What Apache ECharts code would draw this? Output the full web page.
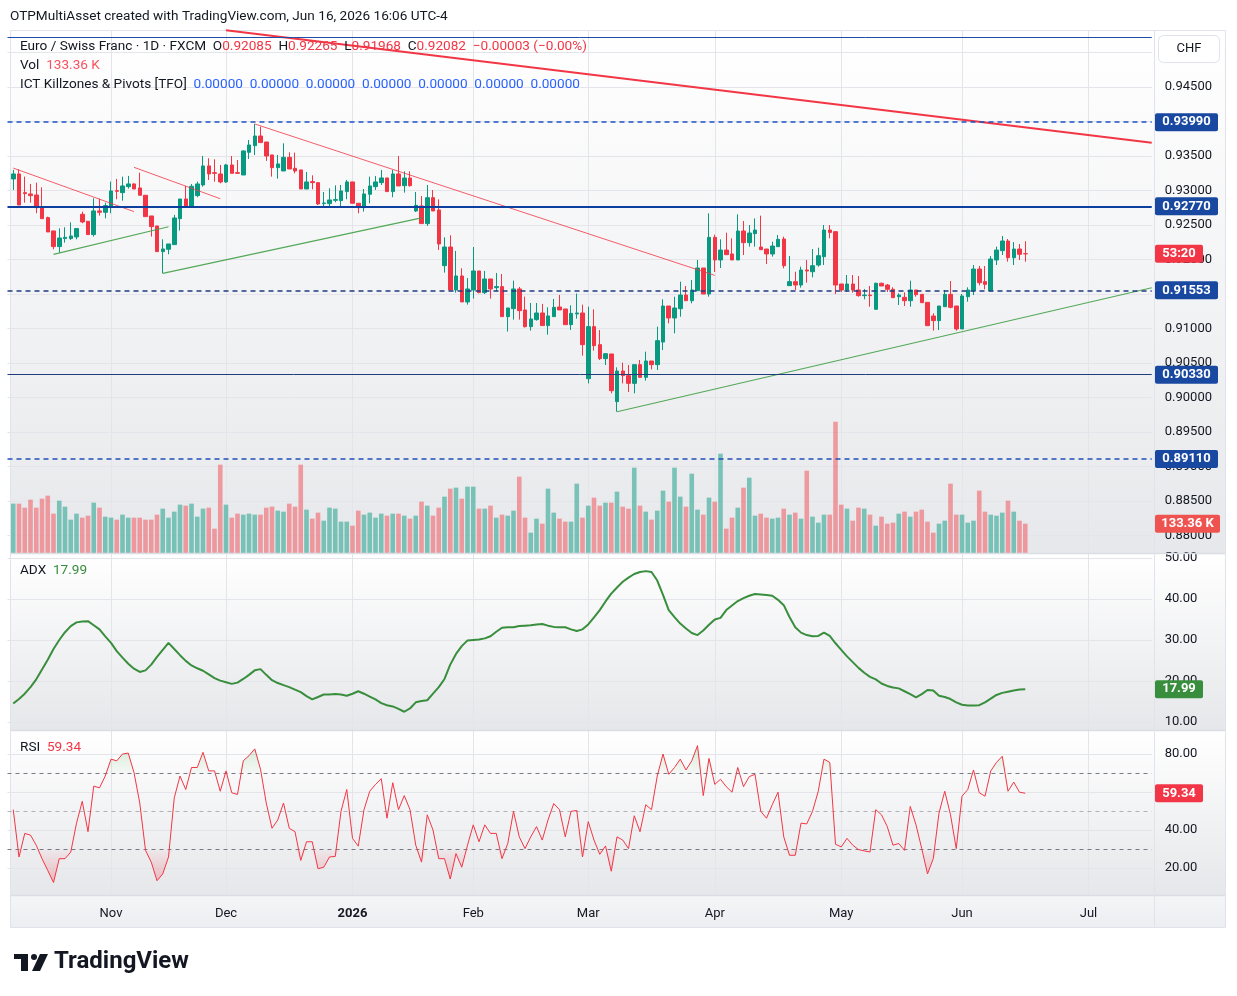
<!DOCTYPE html>
<html>
<head>
<meta charset="utf-8">
<script src="https://cdn.jsdelivr.net/npm/echarts@6/dist/echarts.min.js"></script>
<style>
  html, body { margin: 0; padding: 0; background: #fff; }
  #chart { width: 1237px; height: 996px; }
</style>
</head>
<body>
<div id="chart"></div>
<script>
// EUR/CHF daily, Oct 9 2025 - Jun 16 2026
const opens = [
  0.93167, 0.93240, 0.92969, 0.92950, 0.92935, 0.92766, 0.92607, 0.92414, 0.92187, 0.92303,
  0.92303, 0.92327, 0.92655, 0.92554, 0.92361, 0.92704, 0.92684, 0.92766, 0.92998, 0.92969,
  0.93056, 0.93095, 0.93037, 0.92931, 0.92631, 0.92486, 0.92114, 0.92148, 0.92216, 0.92592,
  0.92877, 0.92766, 0.92926, 0.93080, 0.93356, 0.93259, 0.93240, 0.93124, 0.93370, 0.93259,
  0.93225, 0.93554, 0.93650, 0.93790, 0.93703, 0.93515, 0.93331, 0.93283, 0.93481, 0.93322,
  0.93298, 0.93022, 0.93129, 0.93114, 0.92810, 0.92810, 0.92858, 0.92853, 0.92984, 0.93124,
  0.92815, 0.92752, 0.92945, 0.93056, 0.93114, 0.93182, 0.92984, 0.93240, 0.93070, 0.93181,
  0.92703, 0.92776, 0.92520, 0.92896, 0.92718, 0.91911, 0.92181, 0.91558, 0.91761, 0.91385,
  0.91558, 0.91834, 0.91520, 0.91718, 0.91592, 0.91607, 0.91172, 0.91288, 0.91573, 0.91269,
  0.91027, 0.91129, 0.91225, 0.91042, 0.91172, 0.91312, 0.91283, 0.91056, 0.91211, 0.91225,
  0.90273, 0.91027, 0.90766, 0.90563, 0.90631, 0.89940, 0.90384, 0.90317, 0.90205, 0.90476,
  0.90292, 0.90529, 0.90476, 0.90804, 0.91326, 0.91152, 0.91287, 0.91485, 0.91403, 0.91548,
  0.91877, 0.91500, 0.92321, 0.91993, 0.92137, 0.92080, 0.91993, 0.92413, 0.92244, 0.92374,
  0.92181, 0.92152, 0.92080, 0.92186, 0.92297, 0.91621, 0.91679, 0.91630, 0.91848, 0.91823,
  0.91920, 0.92041, 0.92427, 0.92403, 0.91645, 0.91558, 0.91645, 0.91558, 0.91476, 0.91485,
  0.91278, 0.91655, 0.91630, 0.91568, 0.91461, 0.91452, 0.91403, 0.91558, 0.91495, 0.91379,
  0.91181, 0.91114, 0.91316, 0.91495, 0.91326, 0.90993, 0.91461, 0.91548, 0.91862, 0.91679,
  0.91548, 0.91993, 0.92128, 0.92268, 0.92026, 0.92152, 0.92085
];
const highs = [
  0.93298, 0.93307, 0.93201, 0.93095, 0.93114, 0.93046, 0.92621, 0.92414, 0.92452, 0.92467,
  0.92539, 0.92448, 0.92694, 0.92554, 0.92887, 0.92882, 0.92824, 0.93129, 0.93167, 0.93201,
  0.93211, 0.93104, 0.93259, 0.92931, 0.92631, 0.92486, 0.92293, 0.92225, 0.92646, 0.92877,
  0.93066, 0.93095, 0.93129, 0.93500, 0.93467, 0.93452, 0.93370, 0.93385, 0.93500, 0.93442,
  0.93580, 0.93732, 0.93964, 0.93925, 0.93703, 0.93515, 0.93515, 0.93684, 0.93554, 0.93549,
  0.93298, 0.93269, 0.93220, 0.93114, 0.92979, 0.93032, 0.93075, 0.93080, 0.93153, 0.93124,
  0.92815, 0.93022, 0.93201, 0.93211, 0.93298, 0.93182, 0.93298, 0.93500, 0.93278, 0.93278,
  0.92978, 0.92920, 0.93080, 0.93007, 0.92872, 0.92322, 0.92351, 0.92124, 0.91872, 0.91732,
  0.92181, 0.91834, 0.91834, 0.91718, 0.91805, 0.91790, 0.91298, 0.91694, 0.91602, 0.91462,
  0.91370, 0.91370, 0.91356, 0.91307, 0.91428, 0.91486, 0.91283, 0.91336, 0.91507, 0.91346,
  0.91316, 0.91278, 0.90978, 0.90635, 0.90631, 0.90437, 0.90505, 0.90471, 0.90476, 0.90544,
  0.90664, 0.90529, 0.91027, 0.91423, 0.91326, 0.91461, 0.91679, 0.91616, 0.91703, 0.91993,
  0.91877, 0.92669, 0.92360, 0.92292, 0.92389, 0.92307, 0.92654, 0.92558, 0.92500, 0.92596,
  0.92635, 0.92152, 0.92258, 0.92355, 0.92331, 0.92051, 0.91823, 0.91896, 0.91993, 0.92152,
  0.92171, 0.92500, 0.92500, 0.92413, 0.91645, 0.91775, 0.91775, 0.91761, 0.91572, 0.91616,
  0.91665, 0.91665, 0.91645, 0.91597, 0.91510, 0.91524, 0.91693, 0.91558, 0.91495, 0.91379,
  0.91220, 0.91326, 0.91558, 0.91688, 0.91326, 0.91500, 0.91597, 0.91920, 0.91906, 0.91906,
  0.92051, 0.92186, 0.92340, 0.92297, 0.92253, 0.92224, 0.92265
];
const lows = [
  0.93008, 0.92790, 0.92824, 0.92824, 0.92670, 0.92592, 0.92399, 0.92148, 0.92100, 0.92245,
  0.92283, 0.92293, 0.92525, 0.92361, 0.92332, 0.92636, 0.92597, 0.92670, 0.92873, 0.92853,
  0.93027, 0.93022, 0.92931, 0.92621, 0.92332, 0.92114, 0.91800, 0.92076, 0.92216, 0.92419,
  0.92766, 0.92766, 0.92902, 0.93056, 0.93153, 0.93129, 0.93104, 0.93110, 0.93249, 0.93240,
  0.93225, 0.93457, 0.93515, 0.93694, 0.93428, 0.93201, 0.93172, 0.93283, 0.93312, 0.93249,
  0.93022, 0.93022, 0.93017, 0.92790, 0.92752, 0.92766, 0.92829, 0.92766, 0.92873, 0.92815,
  0.92670, 0.92694, 0.92815, 0.93008, 0.93080, 0.92984, 0.92902, 0.93066, 0.92969, 0.93056,
  0.92689, 0.92520, 0.92486, 0.92703, 0.92138, 0.91810, 0.91558, 0.91520, 0.91385, 0.91346,
  0.91433, 0.91510, 0.91500, 0.91433, 0.91539, 0.91172, 0.90955, 0.91129, 0.91129, 0.91013,
  0.90969, 0.91114, 0.91042, 0.90911, 0.91172, 0.91269, 0.91056, 0.90979, 0.91143, 0.90607,
  0.90205, 0.90679, 0.90544, 0.90471, 0.90061, 0.89795, 0.90205, 0.90080, 0.90061, 0.90292,
  0.90244, 0.90408, 0.90399, 0.90688, 0.91075, 0.90930, 0.91171, 0.91403, 0.91365, 0.91548,
  0.91500, 0.91461, 0.91819, 0.91877, 0.92070, 0.91993, 0.91993, 0.92065, 0.92186, 0.92186,
  0.92142, 0.91935, 0.92041, 0.92186, 0.91872, 0.91621, 0.91558, 0.91592, 0.91664, 0.91741,
  0.91896, 0.91920, 0.92307, 0.91500, 0.91529, 0.91534, 0.91519, 0.91461, 0.91423, 0.91316,
  0.91278, 0.91616, 0.91529, 0.91447, 0.91341, 0.91326, 0.91316, 0.91461, 0.91374, 0.91041,
  0.90969, 0.90978, 0.91316, 0.91292, 0.90969, 0.90993, 0.91389, 0.91485, 0.91626, 0.91568,
  0.91548, 0.91920, 0.92065, 0.91969, 0.91920, 0.91993, 0.91968
];
const closes = [
  0.93240, 0.92790, 0.92955, 0.92926, 0.92752, 0.92592, 0.92399, 0.92187, 0.92312, 0.92322,
  0.92341, 0.92448, 0.92544, 0.92361, 0.92704, 0.92684, 0.92781, 0.92993, 0.92988, 0.93066,
  0.93095, 0.93022, 0.92931, 0.92621, 0.92476, 0.92114, 0.92153, 0.92225, 0.92602, 0.92877,
  0.92766, 0.93061, 0.93095, 0.93356, 0.93240, 0.93249, 0.93124, 0.93370, 0.93249, 0.93249,
  0.93573, 0.93660, 0.93790, 0.93694, 0.93500, 0.93331, 0.93385, 0.93481, 0.93312, 0.93283,
  0.93022, 0.93124, 0.93114, 0.92805, 0.92819, 0.92863, 0.92868, 0.92993, 0.93124, 0.92815,
  0.92752, 0.92950, 0.93066, 0.93124, 0.93182, 0.92984, 0.93240, 0.93066, 0.93181, 0.93070,
  0.92785, 0.92520, 0.92896, 0.92703, 0.92225, 0.92181, 0.91558, 0.91761, 0.91385, 0.91573,
  0.91834, 0.91520, 0.91718, 0.91573, 0.91607, 0.91172, 0.91298, 0.91573, 0.91259, 0.91027,
  0.91138, 0.91225, 0.91042, 0.91182, 0.91307, 0.91269, 0.91056, 0.91220, 0.91225, 0.90766,
  0.91027, 0.90751, 0.90563, 0.90635, 0.90099, 0.90384, 0.90317, 0.90205, 0.90476, 0.90292,
  0.90529, 0.90476, 0.90824, 0.91326, 0.91152, 0.91297, 0.91485, 0.91403, 0.91558, 0.91877,
  0.91500, 0.92321, 0.91993, 0.92137, 0.92070, 0.91993, 0.92413, 0.92244, 0.92384, 0.92427,
  0.92142, 0.92080, 0.92195, 0.92292, 0.91910, 0.91679, 0.91630, 0.91848, 0.91833, 0.91910,
  0.92055, 0.92427, 0.92393, 0.91630, 0.91558, 0.91645, 0.91558, 0.91476, 0.91485, 0.91476,
  0.91655, 0.91616, 0.91568, 0.91447, 0.91485, 0.91403, 0.91558, 0.91490, 0.91374, 0.91041,
  0.91114, 0.91326, 0.91495, 0.91307, 0.90993, 0.91471, 0.91558, 0.91862, 0.91664, 0.91640,
  0.92007, 0.92137, 0.92268, 0.92026, 0.92152, 0.92075, 0.92082
];
// volume, thousands
const volumes = [
  224.5, 224.5, 206.3, 242.7, 206.3, 247.3, 260.9, 179.0, 238.2, 210.9,
  151.7, 179.0, 160.8, 169.9, 229.1, 206.3, 165.4, 160.8, 151.7, 174.5,
  160.8, 160.8, 160.8, 151.7, 151.7, 174.5, 201.8, 160.8, 188.1, 220.0,
  215.4, 224.5, 165.4, 201.8, 206.3, 110.7, 402.0, 220.0, 160.8, 179.0,
  174.5, 179.0, 174.5, 174.5, 206.3, 210.9, 192.7, 188.1, 224.5, 210.9,
  402.0, 197.2, 156.3, 183.6, 147.1, 206.3, 201.8, 142.6, 142.6, 124.4,
  192.7, 174.5, 183.6, 160.8, 179.0, 169.9, 179.0, 179.0, 169.9, 156.3,
  169.9, 233.6, 215.4, 169.9, 206.3, 256.4, 292.8, 297.3, 247.3, 301.9,
  301.9, 201.8, 201.8, 215.4, 160.8, 174.5, 169.9, 192.7, 347.4, 160.8,
  92.5, 156.3, 133.5, 292.8, 183.6, 156.3, 142.6, 142.6, 315.5, 160.8,
  215.4, 251.8, 215.4, 229.1, 229.1, 279.1, 210.9, 201.8, 388.4, 215.4,
  188.1, 151.7, 192.7, 283.7, 233.6, 388.4, 256.4, 210.9, 361.0, 197.2,
  174.5, 251.8, 233.6, 452.1, 110.7, 160.8, 206.3, 297.3, 342.8, 169.9,
  179.0, 160.8, 156.3, 160.8, 201.8, 174.5, 183.6, 156.3, 374.7, 165.4,
  138.0, 174.5, 174.5, 597.7, 220.0, 201.8, 147.1, 206.3, 201.8, 174.5,
  124.4, 165.4, 133.5, 138.0, 179.0, 188.1, 165.4, 188.1, 197.2, 142.6,
  92.5, 133.5, 147.1, 315.5, 174.5, 174.5, 138.0, 147.1, 283.7, 188.1,
  174.5, 169.9, 183.6, 238.2, 188.1, 147.1, 133.36
];
const adx = [
  14.5, 15.6, 16.9, 18.5, 20.4, 22.8, 25.2, 27.8, 30.0, 31.9,
  33.4, 34.3, 34.5, 34.6, 33.6, 32.6, 30.9, 29.3, 27.3, 25.7,
  24.2, 23.0, 22.2, 22.6, 24.0, 25.9, 27.6, 29.3, 27.8, 26.3,
  24.9, 23.8, 23.1, 22.5, 21.6, 20.7, 20.1, 19.7, 19.3, 19.6,
  20.5, 21.5, 22.6, 22.9, 21.5, 20.2, 19.5, 19.0, 18.5, 17.9,
  17.3, 16.3, 15.5, 16.1, 16.7, 16.7, 16.8, 16.7, 16.4, 16.9,
  17.5, 16.9, 16.2, 15.5, 14.6, 14.1, 13.8, 13.2, 12.5, 13.3,
  14.8, 15.1, 15.3, 16.9, 18.5, 20.5, 24.0, 26.6, 28.5, 29.9,
  30.0, 30.1, 30.4, 30.9, 32.0, 33.0, 33.1, 33.1, 33.4, 33.5,
  33.6, 33.8, 33.9, 33.5, 33.2, 33.1, 33.1, 32.6, 32.2, 32.6,
  33.8, 35.5, 37.3, 39.4, 41.3, 42.8, 44.2, 45.2, 46.1, 46.6,
  46.8, 46.6, 44.5, 41.0, 37.3, 35.6, 34.0, 32.8, 31.7, 31.2,
  32.3, 33.7, 35.0, 35.4, 37.3, 38.4, 39.5, 40.2, 40.8, 41.2,
  41.1, 41.0, 40.8, 39.8, 38.5, 35.6, 33.1, 31.8, 31.2, 30.9,
  31.0, 31.8, 31.0, 29.2, 27.6, 26.0, 24.6, 23.2, 22.0, 21.0,
  20.4, 19.4, 18.8, 18.4, 18.2, 17.5, 16.8, 16.0, 16.8, 17.8,
  17.7, 16.4, 16.1, 15.6, 14.8, 14.2, 14.0, 14.0, 14.1, 14.8,
  15.7, 16.6, 17.1, 17.4, 17.7, 17.9, 17.99
];
const rsi = [
  50.7, 25.8, 38.2, 37.3, 32.0, 24.9, 18.7, 12.4, 24.9, 24.9,
  28.4, 43.6, 55.1, 39.1, 63.1, 62.2, 68.4, 77.3, 76.4, 80.0,
  80.5, 70.2, 54.2, 29.3, 23.1, 13.3, 16.9, 25.8, 56.9, 68.4,
  61.3, 72.9, 72.9, 80.9, 71.1, 71.1, 60.4, 71.1, 59.6, 58.7,
  76.4, 79.1, 82.7, 72.0, 54.2, 40.9, 45.3, 54.2, 40.9, 39.1,
  24.0, 33.8, 33.8, 19.6, 20.4, 25.8, 26.1, 49.8, 61.3, 35.6,
  31.5, 50.7, 60.4, 64.0, 67.0, 46.2, 64.9, 50.7, 58.1, 50.7,
  32.0, 23.1, 48.0, 40.0, 24.9, 24.9, 14.2, 27.6, 20.4, 32.0,
  42.7, 33.8, 42.7, 38.2, 38.2, 24.9, 32.9, 49.8, 36.4, 30.2,
  36.4, 41.8, 34.7, 45.3, 53.9, 50.7, 36.4, 49.8, 50.3, 25.8,
  44.4, 34.7, 27.2, 31.6, 18.3, 36.4, 34.7, 30.2, 47.5, 39.1,
  53.3, 50.7, 68.4, 80.0, 69.3, 72.9, 77.3, 71.6, 76.4, 84.4,
  58.1, 77.7, 64.0, 66.7, 62.8, 59.9, 72.9, 62.8, 68.1, 69.3,
  49.8, 46.2, 53.3, 59.9, 36.4, 26.7, 26.7, 43.6, 43.2, 49.8,
  60.4, 77.3, 75.6, 32.5, 31.1, 35.6, 32.0, 29.7, 29.0, 28.4,
  50.7, 48.0, 41.8, 32.0, 32.9, 29.3, 52.4, 42.7, 30.2, 16.9,
  24.9, 48.9, 60.4, 48.0, 30.2, 57.8, 61.3, 71.6, 59.6, 57.8,
  71.1, 75.6, 78.8, 60.4, 65.2, 59.9, 59.34
];
// horizontal levels drawn on the chart
const levelPrices = [0.95217, 0.93990, 0.92770, 0.91553, 0.90330, 0.89110];
// trendline anchors: [bar index, price]
const trendRed = [
  [[0, 0.93325], [21, 0.92694]],
  [[21, 0.93336], [36, 0.92881]],
  [[42, 0.93964], [122, 0.91770]]
];
const trendRedLong = [[37, 0.95324], [198, 0.93691]];
const trendGreen = [
  [[7, 0.92075], [27, 0.92475]],
  [[26, 0.91800], [71, 0.92604]],
  [[105, 0.89794], [198, 0.91590]]
];

// weekday calendar (first slot is an empty day before the first bar)
const categories = (() => {
  const out = [];
  const skip = ['2025-12-25', '2026-01-01'];
  const d = new Date(Date.UTC(2025, 9, 8));
  const end = Date.UTC(2026, 6, 16);
  while (d.getTime() <= end) {
    const wd = d.getUTCDay();
    const s = d.toISOString().slice(0, 10);
    if (wd !== 0 && wd !== 6 && skip.indexOf(s) < 0) out.push(s);
    d.setUTCDate(d.getUTCDate() + 1);
  }
  return out;
})();
const barDate = (i) => categories[i + 1];
const MONTHS = ['Jan', 'Feb', 'Mar', 'Apr', 'May', 'Jun', 'Jul', 'Aug', 'Sep', 'Oct', 'Nov', 'Dec'];
const isMonthStart = (idx) => idx > 0 && categories[idx].slice(0, 7) !== categories[idx - 1].slice(0, 7);

const FONT = 'Roboto, "Noto Sans", sans-serif';
const DARK = '#131722';
const UP = '#089981';
const DOWN = '#f23645';
const GRID = '#e3e5ea';
const LEVEL_BLUE = '#1848a0';
const TXT = 13.6;

const chart = echarts.init(document.getElementById('chart'));

const X_LEFT = 7.5;
const X_WIDTH = 1144.25;

const makeGrid = (top, height) => ({ left: X_LEFT, width: X_WIDTH, top, height });
const makeX = (gridIndex, extra) => Object.assign({
  type: 'category', gridIndex, data: categories, boundaryGap: false,
  axisLine: { show: false }, axisTick: { show: false }, axisLabel: { show: false },
  splitLine: { show: false }
}, extra);
const vSplit = { show: true, interval: (idx) => isMonthStart(idx), lineStyle: { color: GRID, width: 1 } };
const priceLabel = (fmt) => ({
  margin: 13, color: DARK, fontSize: 13, fontFamily: FONT,
  showMinLabel: false, showMaxLabel: false, formatter: fmt
});
const hSplit = { show: true, showMinLine: false, showMaxLine: false, lineStyle: { color: GRID, width: 1 } };

const candleData = opens.map((o, i) => [barDate(i), o, closes[i], lows[i], highs[i]]);
const volData = volumes.map((v, i) => ({
  value: [barDate(i), v],
  itemStyle: { color: closes[i] >= opens[i] ? 'rgba(8,153,129,0.5)' : 'rgba(242,72,80,0.5)' }
}));
const adxData = adx.map((v, i) => [barDate(i), v]);
const rsiData = rsi.map((v, i) => [barDate(i), v]);
const obBase = rsi.map((v, i) => [barDate(i), 70]);
const obTop = rsi.map((v, i) => [barDate(i), Math.max(v - 70, 0)]);
const osBase = rsi.map((v, i) => [barDate(i), Math.min(v, 30)]);
const osTop = rsi.map((v, i) => [barDate(i), 30 - Math.min(v, 30)]);

const levelStyles = [
  { color: '#1e4ea8', width: 1, type: 'solid' },
  { color: '#1f52c6', width: 1.5, type: [5, 4] },
  { color: '#0d3f9e', width: 2.2, type: 'solid' },
  { color: '#1f3b80', width: 1.5, type: [5, 4] },
  { color: '#1f3d7a', width: 1, type: 'solid' },
  { color: '#1f4fb8', width: 1.5, type: [5, 4] }
];

const lineSeries = (pts, color, width, opacity) => ({
  type: 'line', xAxisIndex: 0, yAxisIndex: 0, symbol: 'none', silent: true, z: 4,
  data: pts.map(p => [barDate(p[0]), p[1]]),
  lineStyle: { color, width, opacity }
});

const series = [
  {
    type: 'bar', name: 'Vol', xAxisIndex: 1, yAxisIndex: 1, data: volData,
    barWidth: 4.6, silent: true
  },
  {
    type: 'candlestick', name: 'EURCHF', xAxisIndex: 0, yAxisIndex: 0, data: candleData,
    encode: { x: 0, y: [1, 2, 3, 4] }, barWidth: 4,
    itemStyle: { color: UP, color0: DOWN, borderColor: UP, borderColor0: DOWN, borderWidth: 1 },
    markLine: {
      silent: true, symbol: ['none', 'none'], label: { show: false }, precision: 6,
      data: levelPrices.map((p, k) => ({ yAxis: p, lineStyle: levelStyles[k] }))
    }
  }
];
trendRed.forEach(t => series.push(lineSeries(t, '#f23645', 1, 0.8)));
series.push(lineSeries(trendRedLong, '#f23645', 2, 1));
trendGreen.forEach(t => series.push(lineSeries(t, '#43a047', 1.2, 0.9)));
series.push({
  type: 'line', name: 'ADX', xAxisIndex: 2, yAxisIndex: 2, data: adxData, symbol: 'none',
  lineStyle: { color: '#388e3c', width: 2 }, silent: true
});
series.push(
  {
    type: 'line', xAxisIndex: 3, yAxisIndex: 3, data: obBase, stack: 'ob', symbol: 'none',
    lineStyle: { opacity: 0 }, silent: true
  },
  {
    type: 'line', xAxisIndex: 3, yAxisIndex: 3, data: obTop, stack: 'ob', symbol: 'none',
    lineStyle: { opacity: 0 }, silent: true,
    areaStyle: {
      color: new echarts.graphic.LinearGradient(0, 735, 0, 773, [
        { offset: 0, color: 'rgba(76,175,80,0.45)' }, { offset: 1, color: 'rgba(76,175,80,0.03)' }
      ], true)
    }
  },
  {
    type: 'line', xAxisIndex: 3, yAxisIndex: 3, data: osBase, stack: 'os', symbol: 'none',
    lineStyle: { opacity: 0 }, silent: true
  },
  {
    type: 'line', xAxisIndex: 3, yAxisIndex: 3, data: osTop, stack: 'os', symbol: 'none',
    lineStyle: { opacity: 0 }, silent: true,
    areaStyle: {
      color: new echarts.graphic.LinearGradient(0, 888, 0, 849, [
        { offset: 0, color: 'rgba(242,54,69,0.45)' }, { offset: 1, color: 'rgba(242,54,69,0.03)' }
      ], true)
    }
  },
  {
    type: 'line', name: 'RSI', xAxisIndex: 3, yAxisIndex: 3, data: rsiData, symbol: 'none',
    lineStyle: { color: '#f23645', width: 1 }, silent: true, z: 5,
    markLine: {
      silent: true, symbol: ['none', 'none'], label: { show: false },
      data: [
        { yAxis: 70, lineStyle: { color: '#787b86', type: [4, 4], width: 1 } },
        { yAxis: 50, lineStyle: { color: 'rgba(120,123,134,0.55)', type: [4, 4], width: 1 } },
        { yAxis: 30, lineStyle: { color: '#787b86', type: [4, 4], width: 1 } }
      ]
    }
  }
);

chart.setOption({
  animation: false,
  textStyle: { fontFamily: FONT },
  grid: [
    makeGrid(18, 552),   // price 0.955 .. 0.875
    makeGrid(30, 523),   // volume overlay
    makeGrid(517, 246),  // ADX 60 .. 0
    makeGrid(716, 190),  // RSI 100 .. 0
    makeGrid(554, 176),  // ADX pane verticals
    makeGrid(731, 164)   // RSI pane verticals
  ],
  xAxis: [
    makeX(0),
    makeX(1, { splitLine: vSplit }),
    makeX(2),
    makeX(3, {
      axisLabel: {
        show: true, interval: (idx) => isMonthStart(idx), margin: 1,
        color: DARK, fontSize: 13, fontFamily: FONT,
        formatter: (v) => {
          const m = parseInt(v.slice(5, 7), 10) - 1;
          return m === 0 ? '{b|' + v.slice(0, 4) + '}' : MONTHS[m];
        },
        rich: { b: { fontWeight: 'bold', fontSize: 13, fontFamily: FONT, color: DARK } }
      }
    }),
    makeX(4, { splitLine: vSplit }),
    makeX(5, { splitLine: vSplit })
  ],
  yAxis: [
    {
      type: 'value', gridIndex: 0, position: 'right', min: 0.875, max: 0.955, interval: 0.005,
      axisLine: { show: false }, axisTick: { show: false },
      axisLabel: priceLabel(v => v.toFixed(5)), splitLine: hSplit
    },
    { type: 'value', gridIndex: 1, min: 0, max: 2380, show: false },
    {
      type: 'value', gridIndex: 2, position: 'right', min: 0, max: 60, interval: 10,
      axisLine: { show: false }, axisTick: { show: false },
      axisLabel: priceLabel(v => v.toFixed(2)), splitLine: hSplit
    },
    {
      type: 'value', gridIndex: 3, position: 'right', min: 0, max: 100, interval: 20,
      axisLine: { show: false }, axisTick: { show: false },
      axisLabel: priceLabel(v => v.toFixed(2)), splitLine: hSplit
    },
    { type: 'value', gridIndex: 4, show: false },
    { type: 'value', gridIndex: 5, show: false }
  ],
  series
});

// ---- frame, legends and price tags ----
const grad = (y1, y2, c1, c2) => new echarts.graphic.LinearGradient(0, y1, 0, y2,
  [{ offset: 0, color: c1 }, { offset: 1, color: c2 }], true);
const bg = (id, y, h, c1, c2) => ({
  type: 'rect', id, z: -10, silent: true,
  shape: { x: 11, y, width: 1214, height: h }, style: { fill: grad(y, y + h, c1, c2) }
});
const hline = (id, x1, y1, x2, y2, color, w) => ({
  type: 'line', id, z: 50, silent: true,
  shape: { x1, y1, x2, y2 }, style: { stroke: color, lineWidth: w }
});
const rich = (size, color, weight) => ({ fontSize: size, fontFamily: FONT, fill: color, fontWeight: weight || 'normal' });
const txt = (id, x, y, text, extra) => ({
  type: 'text', id, z: 100, silent: true,
  style: Object.assign({
    x, y, text, fontSize: TXT, fontFamily: FONT, fill: DARK, verticalAlign: 'middle',
    rich: {
      d: rich(TXT, DARK), r: rich(TXT, '#f23645'), v: rich(TXT, '#f7525f'),
      b: rich(TXT, '#2962ff'), g: rich(TXT, '#388e3c')
    }
  }, extra)
});
const tag = (id, y, text, color, width) => [
  {
    type: 'rect', id: id + 'r', z: 100, silent: true,
    shape: { x: 1155, y: y - 9, width, height: 18, r: 2 }, style: { fill: color }
  },
  {
    type: 'text', id: id + 't', z: 101, silent: true,
    style: {
      x: 1155 + width / 2, y, text, fill: '#ffffff', fontSize: 13, fontFamily: FONT,
      fontWeight: 'bold', align: 'center', verticalAlign: 'middle'
    }
  }
];

const last = opens.length - 1;
const chg = closes[last] - opens[last];
const zeros = new Array(7).fill('{b|0.00000}').join('  ');
const legend1 = '{d|Euro / Swiss Franc · 1D · FXCM}  {d|O}{r|' + opens[last].toFixed(5) + '}  {d|H}{r|' +
  highs[last].toFixed(5) + '}  {d|L}{r|' + lows[last].toFixed(5) + '}  {d|C}{r|' + closes[last].toFixed(5) +
  '}  {r|' + (chg < 0 ? '−' : '+') + Math.abs(chg).toFixed(5) + ' (−0.00%)}';

const toY = (axis, v) => chart.convertToPixel({ yAxisIndex: axis }, v);

let elements = [
  { type: 'rect', id: 'frame', z: -11, silent: true, shape: { x: 10.5, y: 30.5, width: 1215, height: 897 },
    style: { fill: '#ffffff', stroke: '#e0e3eb', lineWidth: 1 } },
  bg('bgMain', 31, 522, '#ffffff', '#e7e8eb'),
  bg('bgAdx', 554, 176, '#ffffff', '#e6e7ea'),
  bg('bgRsi', 731, 164, '#ffffff', '#e6e7ea'),
  bg('bgTime', 896, 31, '#f4f5f7', '#eceef1'),
  hline('sep1', 11, 553.5, 1225, 553.5, '#dadde3', 1.5),
  hline('sep2', 11, 730.5, 1225, 730.5, '#dadde3', 1.5),
  hline('sep3', 11, 895.5, 1225, 895.5, '#dadde3', 1.5),
  hline('sepV', 1154.5, 31, 1154.5, 927, '#e0e3eb', 1),
  txt('title', 10, 17, 'OTPMultiAsset created with TradingView.com, Jun 16, 2026 16:06 UTC-4'),
  txt('leg1', 20, 47, legend1),
  txt('leg2', 20, 66, '{d|Vol}  {v|' + volumes[last].toFixed(2) + ' K}'),
  txt('leg3', 20, 85, '{d|ICT Killzones & Pivots [TFO]}  ' + zeros),
  txt('legAdx', 20, 571, '{d|ADX}  {g|' + adx[last].toFixed(2) + '}'),
  txt('legRsi', 20, 748, '{d|RSI}  {r|' + rsi[last].toFixed(2) + '}'),
  { type: 'rect', id: 'chfBox', z: 100, silent: true, shape: { x: 1158.5, y: 35.5, width: 61, height: 27, r: 5 },
    style: { fill: '#ffffff', stroke: '#e0e3eb', lineWidth: 1 } },
  { type: 'text', id: 'chfTxt', z: 101, silent: true,
    style: { x: 1189, y: 49, text: 'CHF', fill: DARK, fontSize: 13, fontFamily: FONT, align: 'center', verticalAlign: 'middle' } },
  // TradingView logo
  { type: 'rect', id: 'lg1', z: 100, silent: true, shape: { x: 14, y: 954, width: 14, height: 5 }, style: { fill: DARK } },
  { type: 'rect', id: 'lg2', z: 100, silent: true, shape: { x: 21, y: 954, width: 7, height: 17 }, style: { fill: DARK } },
  { type: 'circle', id: 'lg3', z: 100, silent: true, shape: { cx: 34, cy: 957, r: 3 }, style: { fill: DARK } },
  { type: 'polygon', id: 'lg4', z: 100, silent: true, shape: { points: [[40, 954], [48, 954], [40, 971], [32, 971]] }, style: { fill: DARK } },
  { type: 'text', id: 'lgTxt', z: 100, silent: true,
    style: { x: 54, y: 962, text: 'TradingView', fill: DARK, fontSize: 24, fontWeight: 'bold', fontFamily: FONT, verticalAlign: 'middle' } }
];

levelPrices.slice(1).forEach((p, k) => {
  elements = elements.concat(tag('lv' + k, toY(0, p), p.toFixed(5), LEVEL_BLUE, 63));
});
elements = elements.concat(
  tag('cd', toY(0, closes[last]), '53:20', '#f23645', 48),
  tag('vol', toY(1, volumes[last]), volumes[last].toFixed(2) + ' K', '#ef5350', 65),
  tag('adx', toY(2, adx[last]), adx[last].toFixed(2), '#388e3c', 48),
  tag('rsi', toY(3, rsi[last]), rsi[last].toFixed(2), '#f23645', 48)
);

chart.setOption({ graphic: { elements } });
</script>
</body>
</html>
